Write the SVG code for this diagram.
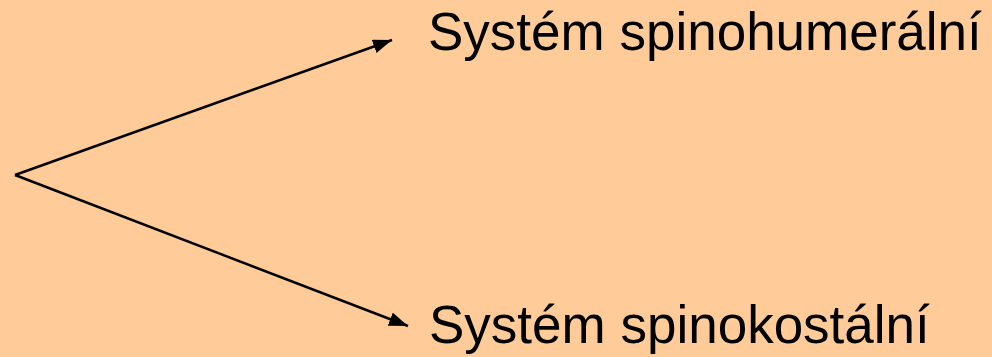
<svg xmlns="http://www.w3.org/2000/svg" width="992" height="357" viewBox="0 0 992 357">
<style>
.lbl{font-family:"Liberation Sans",Arial,sans-serif;font-size:53px;fill:#000}
.conn{stroke:#000;stroke-width:2.5;fill:none}
</style>
<defs>
<marker id="ah2" viewBox="0 0 19 14" refX="19" refY="7" markerWidth="19" markerHeight="14" orient="auto" markerUnits="userSpaceOnUse">
<path d="M0,0 L19,7 L0,14 Z" fill="#000"/>
</marker>
</defs>
<rect width="992" height="357" fill="#FFCC99"/>
<g id="connectors">
<path class="conn" d="M15,175 L392,40" marker-end="url(#ah2)"/>
<path class="conn" d="M15,175 L408,326" marker-end="url(#ah2)"/>
</g>
<g id="node-top"><text class="lbl" x="428" y="50">Systém spinohumerální</text></g>
<g id="node-bottom"><text class="lbl" x="429" y="343">Systém spinokostální</text></g>
</svg>
